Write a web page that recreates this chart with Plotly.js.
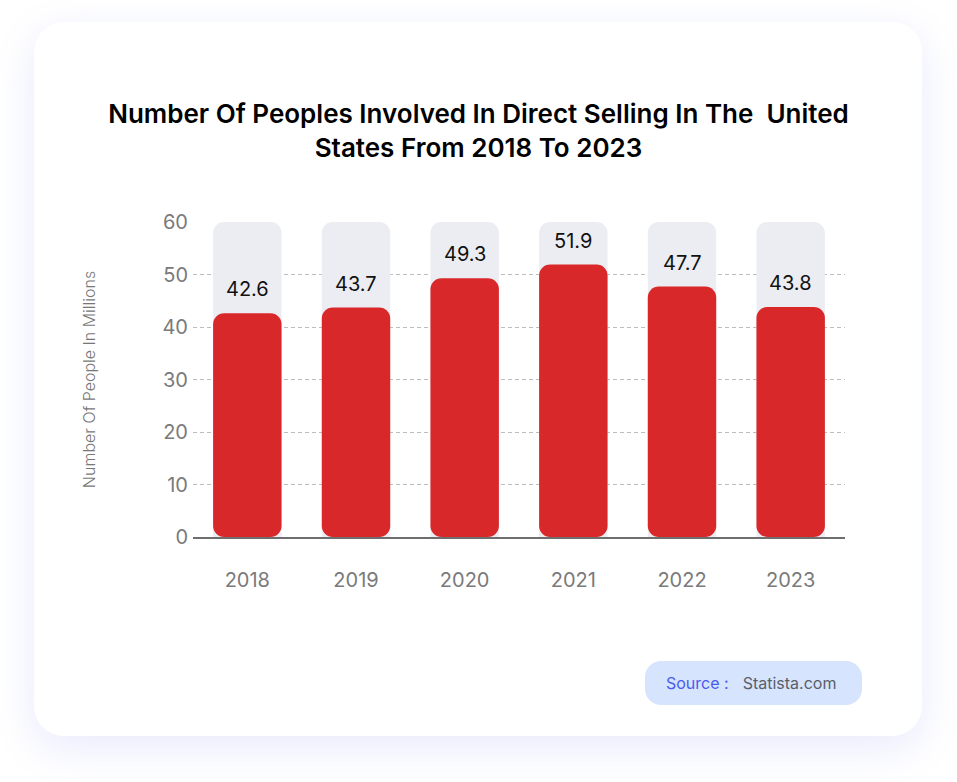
<!DOCTYPE html>
<html>
<head>
<meta charset="utf-8">
<script src="https://cdn.plot.ly/plotly-3.0.1.min.js"></script>
<style>
  html, body { margin: 0; padding: 0; background: #ffffff; width: 957px; height: 782px; overflow: hidden; }
  #card { position: absolute; left: 34px; top: 22px; width: 888px; height: 714px; background: #ffffff; border-radius: 30px;
          box-shadow: 0 12px 40px rgba(110, 125, 235, 0.16); }
  #chart { position: absolute; left: 0; top: 0; width: 957px; height: 782px; }
  #source { position: absolute; left: 645px; top: 661px; width: 217px; height: 44px; background: #d6e4fd; border-radius: 16px;
            font-family: Inter, "Noto Sans", sans-serif; font-size: 16px; line-height: 44px; box-sizing: border-box; padding-left: 21px; }
  #source .lab { color: #4a5bef; }
  #source .val { color: #5a5f6b; margin-left: 14px; }
</style>
</head>
<body>
<div id="card"></div>
<div id="chart"></div>
<div id="source"><span class="lab">Source :</span><span class="val">Statista.com</span></div>
<script>
const years = ['2018', '2019', '2020', '2021', '2022', '2023'];
const peopleMillions = [42.6, 43.7, 49.3, 51.9, 47.7, 43.8];
const axisMax = 60;
const yTicks = [0, 10, 20, 30, 40, 50, 60];

const red = '#d9282a';

const bgTrace = {
  type: 'bar', x: years, y: years.map(() => axisMax),
  marker: { color: '#ecedf3', cornerradius: 11, line: { width: 0 } },
  hoverinfo: 'skip', showlegend: false
};
const valueTrace = {
  type: 'bar', x: years, y: peopleMillions, base: years.map(() => 0),
  marker: { color: red, cornerradius: 11, line: { width: 0 } },
  hovertemplate: '%{x}: %{y}<extra></extra>', showlegend: false
};

const labels = years.map((yr, i) => ({
  x: i, y: peopleMillions[i], xref: 'x', yref: 'y',
  text: String(peopleMillions[i]), showarrow: false, yshift: 24,
  font: { family: 'Inter, Roboto, sans-serif', size: 20, color: '#111111' }
}));

const layout = {
  width: 957, height: 782,
  paper_bgcolor: 'rgba(0,0,0,0)', plot_bgcolor: 'rgba(0,0,0,0)',
  margin: { l: 193, r: 112, t: 222, b: 245 },
  barmode: 'overlay', bargap: 0.37,
  title: {
    text: 'Number Of Peoples Involved In Direct Selling In The  United<br>States From 2018 To 2023',
    font: { family: 'Inter, Roboto, sans-serif', size: 26, weight: 600, color: '#000000' },
    x: 0.5, xref: 'container', y: 1 - 123 / 782, yref: 'container', yanchor: 'middle'
  },
  xaxis: {
    type: 'category', range: [-0.5, years.length - 0.5], autorange: false,
    showgrid: false, showline: true, linecolor: '#6e6e6e', linewidth: 2,
    ticks: '', ticklabelstandoff: 24, fixedrange: true,
    tickfont: { family: 'Inter, Roboto, sans-serif', size: 20, color: '#7a7a7a' }
  },
  yaxis: {
    range: [0, axisMax], autorange: false, tickvals: yTicks, showline: false, zeroline: false,
    showgrid: true, gridcolor: '#bdbdbd', griddash: '4px,3px', gridwidth: 1,
    ticklabelstandoff: 4, fixedrange: true,
    tickfont: { family: 'Inter, Roboto, sans-serif', size: 20, color: '#7a7a7a' },
    title: { text: 'Number Of People In Millions', standoff: 62,
             font: { family: 'Inter, "Open Sans", sans-serif', size: 16, weight: 300, color: '#777777' } }
  },
  annotations: labels
};

Plotly.newPlot('chart', [bgTrace, valueTrace], layout, { displayModeBar: false });
</script>
</body>
</html>
